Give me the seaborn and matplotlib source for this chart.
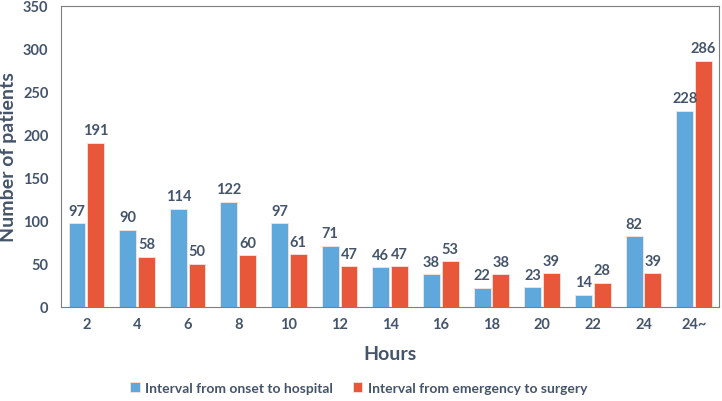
import matplotlib
matplotlib.use("Agg")
import matplotlib.pyplot as plt
import seaborn as sns
import pandas as pd

hours = ["2", "4", "6", "8", "10", "12", "14", "16", "18", "20", "22", "24", "24~"]
onset_to_hospital = [97, 90, 114, 122, 97, 71, 46, 38, 22, 23, 14, 82, 228]
emergency_to_surgery = [191, 58, 50, 60, 61, 47, 47, 53, 38, 39, 28, 39, 286]
series_names = ["Interval from onset to hospital", "Interval from emergency to surgery"]

df = pd.DataFrame({
    "Hours": hours * 2,
    "Patients": onset_to_hospital + emergency_to_surgery,
    "Series": [series_names[0]] * len(hours) + [series_names[1]] * len(hours),
})

sns.set_theme(style="white")
plt.rcParams["font.family"] = ["Lato", "DejaVu Sans"]
text_color = "#44546A"

fig = plt.figure(figsize=(7.22, 4.02), dpi=100)
ax = fig.add_axes([0.0845, 0.234, 0.912, 0.749])
palette = {series_names[0]: "#5FA8DC", series_names[1]: "#E9573A"}
sns.barplot(data=df, x="Hours", y="Patients", hue="Series", order=hours,
            hue_order=series_names, palette=palette, width=0.74, gap=0.1,
            edgecolor="#FBE3DD", linewidth=0.6, ax=ax, saturation=1)

for cont in ax.containers:
    ax.bar_label(cont, padding=4, fontsize=10.5, fontweight="bold", color=text_color)

ax.set_ylim(0, 350)
ax.set_yticks(range(0, 351, 50))
ax.set_xlim(-0.5, len(hours) - 0.5)
ax.set_xlabel("Hours", fontsize=14, fontweight="bold", color=text_color, labelpad=10)
ax.set_ylabel("Number of patients", fontsize=14, fontweight="bold", color=text_color, labelpad=4)
ax.tick_params(axis="x", length=0, labelsize=10.5, labelcolor=text_color, pad=7)
ax.tick_params(axis="y", length=0, labelsize=10.5, labelcolor=text_color, pad=9)
for lbl in ax.get_xticklabels() + ax.get_yticklabels():
    lbl.set_fontweight("bold")
for s in ax.spines.values():
    s.set_color("#7F7F7F")
    s.set_linewidth(0.8)

handles, labels = ax.get_legend_handles_labels()
ax.get_legend().remove()
fig.legend(handles, labels, loc="center", bbox_to_anchor=(0.497, 0.032), ncol=2, frameon=False,
           prop={"weight": "bold", "size": 10}, handlelength=0.7, handleheight=0.7,
           columnspacing=1.4, handletextpad=0.4, labelcolor=text_color)

fig.savefig("out.png", dpi=100)
